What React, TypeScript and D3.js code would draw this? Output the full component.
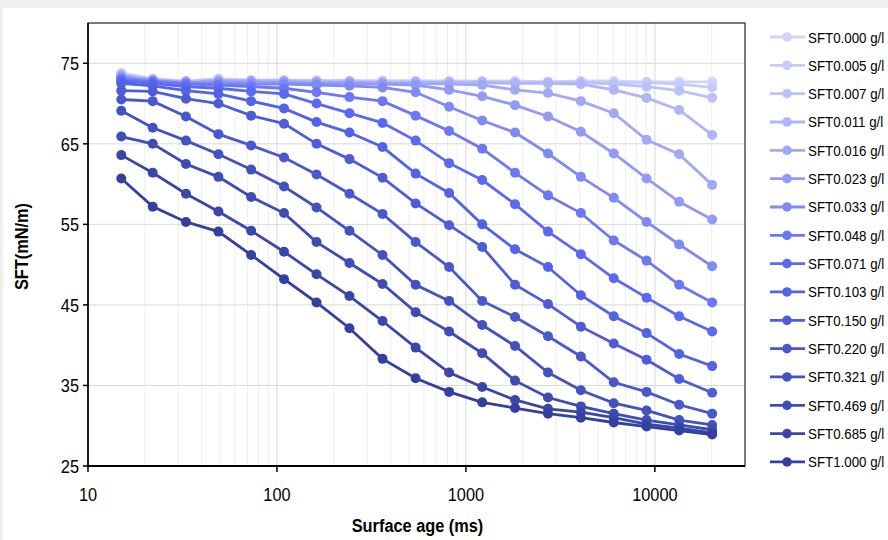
import React from "react";
import * as d3 from "d3";

// surface age (ms) of each measured point
const ages = [15, 22, 33, 49, 73, 109, 162, 242, 362, 542, 815, 1220, 1820, 2720, 4060, 6060, 9040, 13450, 20100];

const seriesNames = [
  "SFT0.000 g/l", "SFT0.005 g/l", "SFT0.007 g/l", "SFT0.011 g/l",
  "SFT0.016 g/l", "SFT0.023 g/l", "SFT0.033 g/l", "SFT0.048 g/l",
  "SFT0.071 g/l", "SFT0.103 g/l", "SFT0.150 g/l", "SFT0.220 g/l",
  "SFT0.321 g/l", "SFT0.469 g/l", "SFT0.685 g/l", "SFT1.000 g/l",
];

// SFT (mN/m), one row per concentration
const sft000 = [73.8, 73.1, 72.8, 73.1, 72.9, 72.9, 72.9, 72.8, 72.8, 72.8, 72.8, 72.8, 72.8, 72.7, 72.8, 72.8, 72.7, 72.7, 72.7];
const sft005 = [73.7, 73.0, 72.8, 73.0, 72.9, 72.9, 72.8, 72.8, 72.8, 72.8, 72.7, 72.7, 72.7, 72.7, 72.7, 72.6, 72.6, 72.4, 72.0];
const sft007 = [73.6, 73.0, 72.7, 72.9, 72.8, 72.8, 72.8, 72.8, 72.7, 72.7, 72.7, 72.7, 72.6, 72.6, 72.6, 72.4, 72.1, 71.6, 70.7];
const sft011 = [73.5, 72.9, 72.7, 72.9, 72.8, 72.8, 72.7, 72.7, 72.6, 72.6, 72.6, 72.6, 72.5, 72.5, 72.4, 71.7, 70.7, 69.2, 66.1];
const sft016 = [73.4, 72.9, 72.6, 72.8, 72.7, 72.7, 72.6, 72.6, 72.5, 72.5, 72.4, 72.3, 71.7, 71.3, 70.3, 68.8, 65.5, 63.7, 59.9];
const sft023 = [73.3, 72.8, 72.6, 72.7, 72.6, 72.6, 72.5, 72.5, 72.4, 72.3, 71.7, 70.9, 69.8, 68.4, 66.5, 63.8, 60.7, 57.8, 55.6];
const sft033 = [73.1, 72.8, 72.5, 72.5, 72.4, 72.4, 72.3, 72.2, 72.0, 71.4, 69.6, 67.9, 66.4, 63.8, 60.9, 58.3, 55.3, 52.5, 49.8];
const sft048 = [73.0, 72.7, 72.4, 72.3, 72.1, 71.9, 71.4, 70.8, 70.3, 68.5, 66.6, 64.4, 61.4, 58.6, 56.4, 53.0, 50.5, 47.5, 45.3];
const sft071 = [72.8, 72.5, 72.1, 71.9, 71.5, 71.2, 70.0, 68.8, 67.6, 65.4, 62.6, 60.5, 57.5, 54.1, 51.3, 48.3, 45.9, 43.6, 41.7];
const sft103 = [72.5, 72.2, 71.6, 71.2, 70.3, 69.4, 67.7, 66.4, 64.6, 61.3, 58.9, 55.0, 51.9, 49.7, 46.2, 43.6, 41.5, 38.9, 37.4];
const sft150 = [71.6, 71.5, 70.6, 70.0, 68.5, 67.5, 65.0, 63.1, 60.8, 57.6, 54.9, 52.2, 47.5, 45.1, 42.3, 40.2, 38.2, 35.8, 34.1];
const sft220 = [70.5, 70.3, 68.4, 66.2, 64.8, 63.3, 61.2, 58.8, 56.3, 52.8, 49.7, 45.5, 43.5, 41.1, 38.6, 35.4, 34.2, 32.6, 31.5];
const sft321 = [69.1, 67.0, 65.4, 63.7, 61.8, 59.7, 57.1, 54.2, 51.2, 47.5, 45.5, 42.5, 39.9, 36.6, 34.4, 32.8, 31.9, 30.7, 30.1];
const sft469 = [65.9, 65.0, 62.5, 60.9, 58.4, 56.4, 52.8, 50.2, 47.6, 44.1, 41.7, 39.0, 35.6, 33.5, 32.4, 31.5, 30.7, 30.1, 29.5];
const sft685 = [63.6, 61.4, 58.8, 56.6, 54.2, 51.6, 48.8, 46.1, 43.0, 39.7, 36.6, 34.8, 33.2, 32.1, 31.7, 31.0, 30.2, 29.7, 29.1];
const sft1000 = [60.7, 57.2, 55.3, 54.1, 51.2, 48.2, 45.3, 42.1, 38.3, 35.9, 34.2, 32.9, 32.2, 31.5, 31.0, 30.4, 29.9, 29.4, 28.9];

const allSeries = [sft000, sft005, sft007, sft011, sft016, sft023, sft033, sft048, sft071, sft103, sft150, sft220, sft321, sft469, sft685, sft1000];

const xTicks = [10, 100, 1000, 10000];
const yTicks = [25, 35, 45, 55, 65, 75];

const colors = [
  "#d0d5fb", "#c6cbfa", "#bbc1f9", "#aeb5f8", "#a1a9f7", "#919bf6", "#7f8af5", "#6b78f5",
  "#5a69f3", "#5263e6", "#4d5dd9", "#4858cd", "#4352c1", "#3e4cb5", "#3946aa", "#3340a0",
];

const W = 888;
const H = 540;
const m = { left: 88, right: 745, top: 23, bottom: 466 };
const font = "'Liberation Sans', Arial, sans-serif";

// narrow-looking text like the original (condensed horizontally)
const Label = ({ x, y, anchor = "start", size, bold = false, rotate = 0, children }: any) => (
  <text
    transform={`translate(${x},${y}) rotate(${rotate}) scale(0.86,1)`}
    textAnchor={anchor}
    fontFamily={font}
    fontSize={size}
    fontWeight={bold ? "bold" : "normal"}
    fill="#000"
  >
    {children}
  </text>
);

const App = () => {
  const x = d3.scaleLog().domain([10, 30000]).range([m.left, m.right]);
  const y = d3.scaleLinear().domain([25, 80]).range([m.bottom, m.top]);

  const line = d3
    .line<number>()
    .x((d, i) => x(ages[i]))
    .y((d) => y(d));

  // minor log grid (2..9 of each decade)
  const minor: number[] = [];
  [10, 100, 1000, 10000].forEach((dec) => {
    for (let k = 2; k <= 9; k++) if (dec * k < 30000) minor.push(dec * k);
  });

  return (
    <svg width={W} height={H} style={{ position: "absolute", left: 0, top: 0, background: "#fff" }}>
      <rect x={0} y={0} width={W} height={8} fill="#efefef" />
      <rect x={0} y={0} width={3} height={H} fill="#efefef" />

      {/* grid */}
      {minor.map((v) => (
        <line key={"mx" + v} x1={x(v)} x2={x(v)} y1={m.top} y2={m.bottom} stroke="#ededed" strokeWidth={1} />
      ))}
      {xTicks.slice(1).map((v) => (
        <line key={"gx" + v} x1={x(v)} x2={x(v)} y1={m.top} y2={m.bottom} stroke="#d6d6d6" strokeWidth={1} />
      ))}
      {yTicks.slice(1).map((v) => (
        <line key={"gy" + v} x1={m.left} x2={m.right} y1={y(v)} y2={y(v)} stroke="#d9d9d9" strokeWidth={1} />
      ))}

      {/* frame + axes */}
      <rect x={m.left} y={m.top} width={m.right - m.left} height={m.bottom - m.top} fill="none" stroke="#222" strokeWidth={1.2} />
      <line x1={m.left} x2={m.right} y1={m.bottom} y2={m.bottom} stroke="#000" strokeWidth={2} />
      <line x1={m.left} x2={m.left} y1={m.top} y2={m.bottom} stroke="#000" strokeWidth={1.5} />

      {yTicks.map((v) => (
        <g key={"ty" + v}>
          <line x1={m.left - 5} x2={m.left} y1={y(v)} y2={y(v)} stroke="#000" strokeWidth={1.5} />
          <Label x={m.left - 9} y={y(v) + 7} anchor="end" size={19}>
            {v}
          </Label>
        </g>
      ))}
      {xTicks.map((v) => (
        <g key={"tx" + v}>
          <line x1={x(v)} x2={x(v)} y1={m.bottom} y2={m.bottom + 6} stroke="#000" strokeWidth={1.5} />
          <Label x={x(v)} y={501} anchor="middle" size={19}>
            {v}
          </Label>
        </g>
      ))}

      <Label x={(m.left + m.right) / 2 + 1} y={532} anchor="middle" size={19} bold>
        Surface age (ms)
      </Label>
      <Label x={28} y={(m.top + m.bottom) / 2 + 2} anchor="middle" size={19} bold rotate={-90}>
        SFT(mN/m)
      </Label>

      {/* series */}
      {allSeries.map((vals, s) => (
        <g key={"s" + s}>
          <path d={line(vals) || ""} fill="none" stroke={colors[s]} strokeWidth={2.8} />
          {vals.map((v, i) => (
            <circle key={i} cx={x(ages[i])} cy={y(v)} r={5} fill={colors[s]} />
          ))}
        </g>
      ))}

      {/* legend */}
      {seriesNames.map((name, s) => {
        const ly = 37 + s * 28.33;
        return (
          <g key={"l" + s}>
            <line x1={770} x2={805} y1={ly} y2={ly} stroke={colors[s]} strokeWidth={2.8} />
            <circle cx={787} cy={ly} r={4.8} fill={colors[s]} />
            <Label x={808} y={ly + 5.5} size={15.5}>
              {name}
            </Label>
          </g>
        );
      })}
    </svg>
  );
};

export default App;
